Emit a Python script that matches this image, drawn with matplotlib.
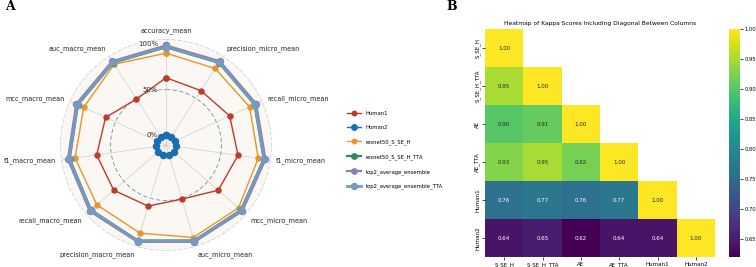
import numpy as np
import matplotlib
matplotlib.use("Agg")
import matplotlib.pyplot as plt
import matplotlib.transforms as mtransforms
import seaborn as sns

# ---------------- data ----------------
metrics = ["accuracy_mean", "precision_micro_mean", "recall_micro_mean", "f1_micro_mean",
           "mcc_micro_mean", "auc_micro_mean", "precision_macro_mean", "recall_macro_mean",
           "f1_macro_mean", "mcc_macro_mean", "auc_macro_mean"]

human1 = [0.63, 0.60, 0.66, 0.69, 0.65, 0.51, 0.59, 0.65, 0.66, 0.62, 0.49]
human2 = [0.00, 0.00, 0.00, 0.00, 0.00, 0.00, 0.00, 0.00, 0.00, 0.00, 0.00]
resnet50_S_SE_H = [0.90, 0.89, 0.90, 0.915, 0.945, 0.95, 0.90, 0.895, 0.90, 0.885, 0.945]
resnet50_S_SE_H_TTA = [0.965, 0.965, 0.96, 0.975, 0.98, 0.985, 0.985, 0.98, 0.96, 0.955, 0.965]
top2_average_ensemble = [0.985, 0.985, 0.98, 0.995, 1.0, 1.0, 1.0, 1.0, 0.98, 0.975, 0.985]
top2_average_ensemble_TTA = [0.97, 0.97, 0.965, 0.98, 0.985, 0.99, 0.99, 0.985, 0.965, 0.96, 0.97]

series_names = ["Human1", "Human2", "resnet50_S_SE_H", "resnet50_S_SE_H_TTA",
                "top2_average_ensemble", "top2_average_ensemble_TTA"]

kappa_labels = ["S_SE_H", "S_SE_H_TTA", "AE", "AE_TTA", "Human1", "Human2"]
kappa_rows = [
    [1.00, np.nan, np.nan, np.nan, np.nan, np.nan],
    [0.95, 1.00, np.nan, np.nan, np.nan, np.nan],
    [0.90, 0.91, 1.00, np.nan, np.nan, np.nan],
    [0.93, 0.95, 0.92, 1.00, np.nan, np.nan],
    [0.76, 0.77, 0.76, 0.77, 1.00, np.nan],
    [0.64, 0.65, 0.62, 0.64, 0.64, 1.00],
]

# ---------------- figure ----------------
fig = plt.figure(figsize=(7.56, 2.67), dpi=100)
W, H = 756, 267

# radar
cx, cy, R = 166, 145, 105.5
ax = fig.add_axes([(cx - R) / W, (H - cy - R) / H, 2 * R / W, 2 * R / H], projection="polar")
ax.set_theta_zero_location("N")
ax.set_theta_direction(-1)
rmin, rmax = -0.11, 1.05
ax.set_ylim(rmin, rmax)
ax.set_facecolor("#fbf7f3")

n = len(metrics)
angles = np.linspace(0, 2 * np.pi, n, endpoint=False)
ang_closed = np.concatenate([angles, angles[:1]])

ax.set_xticks(angles)
ax.set_xticklabels([])
ax.set_yticks([])
ax.xaxis.grid(True, color="#cfcfcf", linewidth=0.5)
ax.yaxis.grid(False)
ax.spines["polar"].set_color("#c9d5df")
ax.spines["polar"].set_linestyle((0, (4, 3)))
ax.spines["polar"].set_linewidth(0.6)

# dashed 50% circle
tt = np.linspace(0, 2 * np.pi, 300)
ax.plot(tt, np.full_like(tt, 0.5), color="#5b97a3", linestyle=(0, (5, 3)), linewidth=0.6, zorder=1)

colors = ["#c0392b", "#1a6fb3", "#e8952e", "#2e8b57", "#8a80b8", "#7799bd"]
all_series = [human1, human2, resnet50_S_SE_H, resnet50_S_SE_H_TTA,
              top2_average_ensemble, top2_average_ensemble_TTA]
lws = [1.0, 1.0, 1.0, 1.6, 1.6, 2.0]
mss = [3.6, 4.4, 3.6, 4.3, 4.3, 4.8]
handles = []
for name, vals, c, lw, ms in zip(series_names, all_series, colors, lws, mss):
    v = np.concatenate([vals, vals[:1]])
    h, = ax.plot(ang_closed, v, color=c, linewidth=lw, marker="o", markersize=ms,
                 label=name, zorder=3)
    handles.append(h)

# axis labels
lab_r = rmin + (111 / R) * (rmax - rmin)
for a, lab in zip(angles, metrics):
    s, c = np.sin(a), np.cos(a)
    if abs(s) < 0.1:
        ha = "center"
    elif s > 0:
        ha = "left"
    else:
        ha = "right"
    if abs(c) < 0.5:
        va = "center"
    elif c > 0:
        va = "bottom"
    else:
        va = "top"
    ax.text(a, lab_r, lab, ha=ha, va=va, fontsize=4.7, color="#222222")

# radial tick labels
off = mtransforms.ScaledTranslation(-8 / 100, 0, fig.dpi_scale_trans)
for rv, lab in [(0.0, "0%"), (0.5, "50%"), (1.0, "100%")]:
    ax.text(0, rv, lab, ha="right", va="center", fontsize=5, color="#333333",
            transform=ax.transData + off, zorder=4)

fig.legend(handles=handles, labels=series_names, loc="center left",
           bbox_to_anchor=(347 / W, 1 - 150 / H), frameon=False, fontsize=3.8,
           handlelength=2.6, labelspacing=1.75, borderpad=0, borderaxespad=0,
           handletextpad=1.0, markerscale=0.9)

# heatmap
hax = fig.add_axes([485 / W, (H - 257) / H, 230 / W, 228 / H])
cax = fig.add_axes([729 / W, (H - 257) / H, 11 / W, 228 / H])
data = np.array(kappa_rows)
mask = np.isnan(data)
sns.heatmap(data, mask=mask, annot=True, fmt=".2f", cmap="viridis", ax=hax, cbar_ax=cax,
            xticklabels=kappa_labels, yticklabels=kappa_labels,
            annot_kws={"fontsize": 4})
hax.set_title("Heatmap of Kappa Scores Including Diagonal Between Columns", fontsize=4.3, pad=3)
hax.tick_params(axis="both", labelsize=4, length=2, width=0.5, pad=1.5)
for t in hax.get_xticklabels():
    t.set_rotation(0)
    t.set_ha("center")
for t in hax.get_yticklabels():
    t.set_rotation(90)
    t.set_va("center")
cax.tick_params(labelsize=3.7, length=1.8, width=0.5, pad=1.2)
cax.yaxis.set_major_locator(matplotlib.ticker.MultipleLocator(0.05))
cax.yaxis.set_major_formatter(matplotlib.ticker.FormatStrFormatter("%.2f"))
for sp in cax.spines.values():
    sp.set_visible(False)

fig.text(5 / W, 1 - 7 / H, "A", fontsize=9, fontweight="bold", family="DejaVu Serif",
         ha="left", va="center")
fig.text(446 / W, 1 - 6 / H, "B", fontsize=9, fontweight="bold", family="DejaVu Serif",
         ha="left", va="center")

fig.savefig("out.png", dpi=100)
